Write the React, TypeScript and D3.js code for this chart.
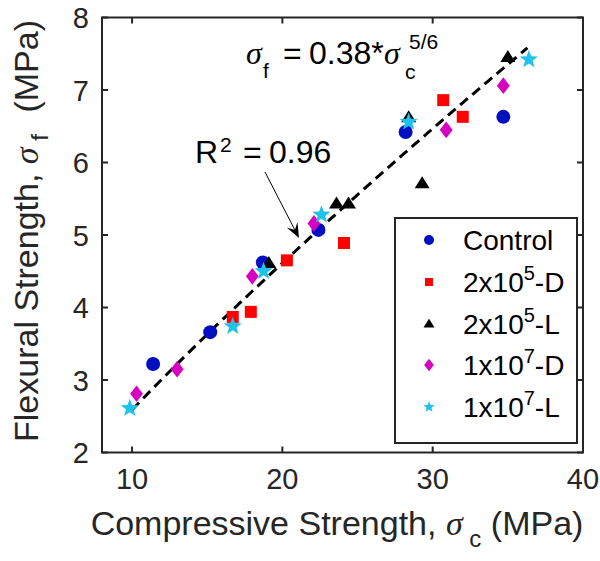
import React from 'react';
import * as d3 from 'd3';

const W = 600, H = 561;
const xDomain: [number, number] = [8, 40];
const yDomain: [number, number] = [2, 8];
const xTicks = [10, 20, 30, 40];
const yTicks = [2, 3, 4, 5, 6, 7, 8];

const controlX = [11.4, 15.2, 18.7, 22.4, 28.2, 34.7];
const controlY = [3.22, 3.66, 4.62, 5.07, 6.42, 6.63];
const d2e5X = [16.7, 17.9, 20.3, 24.1, 30.7, 32.0];
const d2e5Y = [3.87, 3.94, 4.65, 4.89, 6.86, 6.63];
const l2e5X = [19.1, 23.6, 24.4, 28.4, 29.3, 35.0];
const l2e5Y = [4.62, 5.44, 5.44, 6.63, 5.72, 7.46];
const d1e7X = [10.3, 13.0, 18.0, 22.1, 30.9, 34.7];
const d1e7Y = [2.81, 3.15, 4.43, 5.16, 6.45, 7.06];
const l1e7X = [9.85, 16.7, 18.75, 22.6, 28.4, 36.4];
const l1e7Y = [2.61, 3.74, 4.5, 5.28, 6.56, 7.42];

const fitRange: [number, number] = [10, 36.3];
const fitCoef = 0.38;
const fitExp = 5 / 6;

const AX = '#262626';

const circleT = { draw(c: any, s: number) { const r = s / 2; c.moveTo(r, 0); c.arc(0, 0, r, 0, 2 * Math.PI); } };
const squareT = { draw(c: any, s: number) { const h = s / 2; c.rect(-h, -h, s, s); } };
const triT = { draw(c: any, s: number) { const w = s / 2, h = s * 0.8; c.moveTo(0, -h * 0.55); c.lineTo(w, h * 0.45); c.lineTo(-w, h * 0.45); c.closePath(); } };
const diamT = { draw(c: any, s: number) { const w = s * 0.4, h = s * 0.52; c.moveTo(0, -h); c.lineTo(w, 0); c.lineTo(0, h); c.lineTo(-w, 0); c.closePath(); } };
const starT = { draw(c: any, s: number) { const R = s / 2, r = R * 0.42; for (let i = 0; i < 10; i++) { const a = -Math.PI / 2 + i * Math.PI / 5; const rr = i % 2 === 0 ? R : r; const x = rr * Math.cos(a), y = rr * Math.sin(a); if (i === 0) c.moveTo(x, y); else c.lineTo(x, y); } c.closePath(); } };

const series = [
  { name: 'Control', xs: controlX, ys: controlY, color: '#0010c0', type: circleT, size: 14, lsize: 10 },
  { name: '2e5D', xs: d2e5X, ys: d2e5Y, color: '#ff0000', type: squareT, size: 12, lsize: 8 },
  { name: '2e5L', xs: l2e5X, ys: l2e5Y, color: '#000000', type: triT, size: 15, lsize: 11 },
  { name: '1e7D', xs: d1e7X, ys: d1e7Y, color: '#d800c0', type: diamT, size: 16, lsize: 12 },
  { name: '1e7L', xs: l1e7X, ys: l1e7Y, color: '#1ec2ea', type: starT, size: 19, lsize: 12 },
];

export default function App() {
  const L = 102, R = 583, T = 17.5, B = 452.5;
  const x = d3.scaleLinear().domain(xDomain).range([L, R]);
  const y = d3.scaleLinear().domain(yDomain).range([B, T]);
  const fitPts = d3.range(0, 61).map(i => { const xv = fitRange[0] + (fitRange[1] - fitRange[0]) * i / 60; return [xv, fitCoef * Math.pow(xv, fitExp)] as [number, number]; });
  const fitLine = d3.line<[number, number]>().x(d => x(d[0])).y(d => y(d[1]))(fitPts) || '';
  const sym = (t: any, s: number) => d3.symbol().type(t).size(s)() || '';

  const font = 'Liberation Sans, Arial, sans-serif';
  const greek = 'Liberation Serif, Times New Roman, serif';

  const a0 = [265, 172], a1 = [299, 238];
  const dx = a1[0] - a0[0], dy = a1[1] - a0[1], len = Math.hypot(dx, dy);
  const ux = dx / len, uy = dy / len, px = -uy, py = ux;
  const hl = 15, hw = 6;
  const head = [
    [a1[0], a1[1]],
    [a1[0] - ux * hl + px * hw, a1[1] - uy * hl + py * hw],
    [a1[0] - ux * hl * 0.6, a1[1] - uy * hl * 0.6],
    [a1[0] - ux * hl - px * hw, a1[1] - uy * hl - py * hw],
  ];

  const legX = 395, legY = 218, legW = 182, legH = 225;
  const rowY = [240, 282, 323.5, 365, 407];
  const LF = 28, LS = 20;
  const sup = (b: string, e: string, t: string) => (<><tspan>{b}</tspan><tspan dy={-12} fontSize={LS}>{e}</tspan><tspan dy={12}>{t}</tspan></>);
  const legLabels: any[] = [
    <tspan>Control</tspan>,
    sup('2x10', '5', '-D'),
    sup('2x10', '5', '-L'),
    sup('1x10', '7', '-D'),
    sup('1x10', '7', '-L'),
  ];

  const TF = 29;
  const AF = 34;
  const EF = 32;

  return (
    <svg width={W} height={H} style={{ position: 'absolute', left: 0, top: 0, background: '#fff' }} fontFamily={font}>
      <rect x={0} y={0} width={W} height={H} fill="#fff" />
      <path d={fitLine} fill="none" stroke="#000" strokeWidth={3} strokeDasharray="10,6" />
      {series.map(s => s.xs.map((xv, i) => (
        <path key={s.name + i} d={sym(s.type, s.size)} transform={`translate(${x(xv)},${y(s.ys[i])})`} fill={s.color} />
      )))}
      <rect x={L} y={T} width={R - L} height={B - T} fill="none" stroke={AX} strokeWidth={2} />
      {xTicks.map(t => (
        <g key={'xt' + t}>
          <line x1={x(t)} x2={x(t)} y1={B} y2={B - 6} stroke={AX} strokeWidth={2} />
          <line x1={x(t)} x2={x(t)} y1={T} y2={T + 6} stroke={AX} strokeWidth={2} />
          <text x={x(t)} y={B + 36} textAnchor="middle" fontSize={TF} fill={AX}>{t}</text>
        </g>
      ))}
      {yTicks.map(t => (
        <g key={'yt' + t}>
          <line x1={L} x2={L + 6} y1={y(t)} y2={y(t)} stroke={AX} strokeWidth={2} />
          <line x1={R} x2={R - 6} y1={y(t)} y2={y(t)} stroke={AX} strokeWidth={2} />
          <text x={L - 13} y={y(t) + 10.5} textAnchor="end" fontSize={TF} fill={AX}>{t}</text>
        </g>
      ))}
      <text x={337} y={535} textAnchor="middle" fontSize={AF} fill={AX}>
        Compressive Strength, <tspan fontFamily={greek} fontStyle="italic">σ</tspan><tspan dy={12} fontSize={24}> c</tspan><tspan dy={-12}> (MPa)</tspan>
      </text>
      <text transform={`translate(38,231) rotate(-90)`} textAnchor="middle" fontSize={AF} fill={AX}>
        Flexural Strength, <tspan fontFamily={greek} fontStyle="italic">σ</tspan><tspan dy={10} fontSize={24}> f</tspan><tspan dy={-10} dx={12}> (MPa)</tspan>
      </text>
      {/* equation */}
      <text x={246} y={64} fontSize={EF} fill="#000" fontFamily={greek} fontStyle="italic">σ</text>
      <text x={263} y={78} fontSize={21} fill="#000">f</text>
      <text x={283} y={64} fontSize={EF} fill="#000">=</text>
      <text x={309} y={64} fontSize={EF} fill="#000">0.38*</text>
      <text x={384} y={64} fontSize={EF} fill="#000" fontFamily={greek} fontStyle="italic">σ</text>
      <text x={405} y={79} fontSize={21} fill="#000">c</text>
      <text x={409} y={49} fontSize={21} fill="#000">5/6</text>
      {/* R^2 */}
      <text x={195} y={163} fontSize={EF} fill="#000">R</text>
      <text x={220} y={152} fontSize={21} fill="#000">2</text>
      <text x={243} y={163} fontSize={EF} fill="#000">=</text>
      <text x={269} y={163} fontSize={EF} fill="#000">0.96</text>
      <line x1={a0[0]} y1={a0[1]} x2={a1[0] - ux * 9} y2={a1[1] - uy * 9} stroke="#000" strokeWidth={1} />
      <path d={'M' + head.map(p => p.join(',')).join('L') + 'Z'} fill="#000" />
      <rect x={legX} y={legY} width={legW} height={legH} fill="#fff" stroke={AX} strokeWidth={2} />
      {series.map((s, i) => (
        <g key={'lg' + i}>
          <path d={sym(s.type, s.lsize)} transform={`translate(${429},${rowY[i]})`} fill={s.color} />
          <text x={463} y={rowY[i] + 10} fontSize={LF} fill="#000">{legLabels[i]}</text>
        </g>
      ))}
    </svg>
  );
}
